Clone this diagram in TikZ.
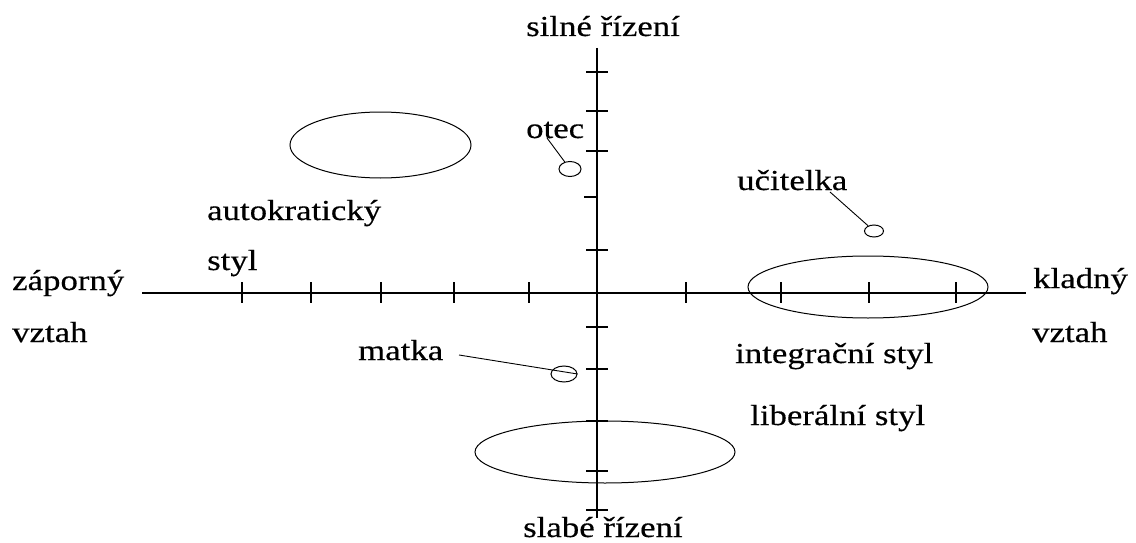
\documentclass[tikz,border=0pt]{standalone}
\usepackage{fontspec}
\setmainfont{Liberation Serif}[FakeStretch=1.2, FakeBold=0.4]
\usepackage{tikz}
\usetikzlibrary{shapes.geometric, positioning}

\begin{document}
\begin{tikzpicture}[
  x=1pt, y=-1pt,
  txt/.style={anchor=base west, inner sep=0pt, font=\fontsize{29}{35}\selectfont},
  axisline/.style={line width=1.4pt},
  tickline/.style={line width=1.3pt},
  bubble/.style={ellipse, draw, line width=1pt, inner sep=0pt},
  pointer/.style={line width=0.9pt}
]
\useasboundingbox (0,0) rectangle (1136,543);
% axes
\coordinate (west) at (142,293);
\coordinate (east) at (1026,293);
\coordinate (north) at (597,48);
\coordinate (south) at (597,518);
\draw[axisline] (west) -- (east);
\draw[axisline] (north) -- (south);
\foreach \tx in {242,311,381,454,529,686,781,869,956}
  \draw[tickline] (\tx,282) -- (\tx,303);
\foreach \ty in {72,111,151,250,327,369,421,471,510}
  \draw[tickline] (586,\ty) -- (608,\ty);
\draw[tickline] (584,197) -- (597,197);
% axis labels
\node[txt] (strong) at (526,36) {silné řízení};
\node[txt] (weak) at (523,537) {slabé řízení};
\node[txt] (neg) at (12,290) {záporný};
\node[txt] (negrel) at (12,342) {vztah};
\node[txt] (pos) at (1033,288) {kladný};
\node[txt] (posrel) at (1032,342) {vztah};
% styles
\node[bubble, minimum width=181, minimum height=66] (autokr) at (380.5,145) {};
\node[bubble, minimum width=240, minimum height=62] (integr) at (868,287) {};
\node[bubble, minimum width=260, minimum height=62] (liberal) at (605,452) {};
\node[txt] (autokrtxt) at (207,220) {autokratický};
\node[txt] (autokrtxt2) at (207,270) {styl};
\node[txt] (integrtxt) at (735,363) {integrační styl};
\node[txt] (liberaltxt) at (750,425) {liberální styl};
% persons
\node[bubble, minimum width=22, minimum height=15] (otecmark) at (570,169) {};
\node[bubble, minimum width=26, minimum height=16] (matkamark) at (564,374) {};
\node[bubble, minimum width=19, minimum height=12] (ucitelkamark) at (874,231) {};
\node[txt] (otec) at (526,138) {otec};
\node[txt] (matka) at (358,360) {matka};
\node[txt] (ucitelka) at (737,190) {učitelka};
\coordinate (oteckey) at (547,138);
\coordinate (matkakey) at (459,355);
\coordinate (ucitelkakey) at (830,192);
\draw[pointer] (oteckey) -- (otecmark);
\draw[pointer] (matkakey) -- (matkamark.east);
\draw[pointer] (ucitelkakey) -- (ucitelkamark);
\end{tikzpicture}
\end{document}
